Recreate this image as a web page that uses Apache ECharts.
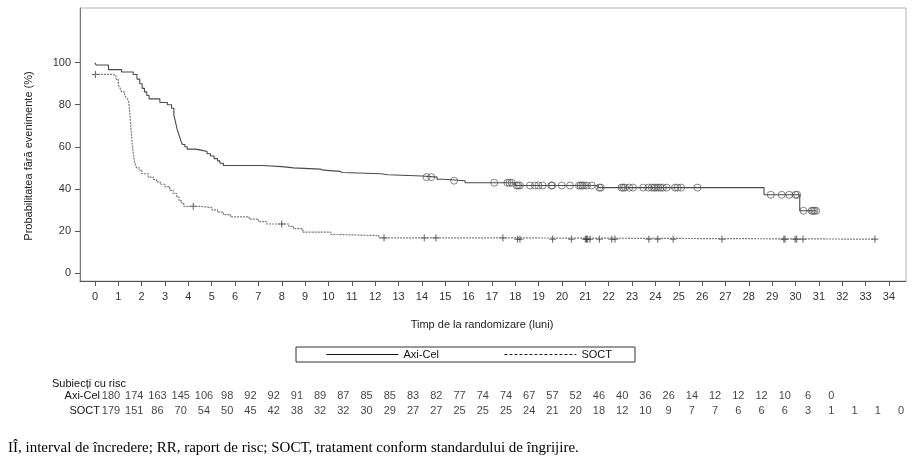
<!DOCTYPE html>
<html lang="ro">

<head>
    <meta charset="UTF-8">
    <title>Supraviețuire fără evenimente</title>
    <script src="https://cdn.jsdelivr.net/npm/echarts@6.0.0/dist/echarts.min.js"></script>
    <style>
        html, body { margin: 0; padding: 0; background: #fff; }
    </style>
</head>

<body>
    <div id="echart" style="width: 923px; height: 467px;"></div>
</body>

<script>
    // curba Kaplan-Meier Axi-Cel: momentul treptei (luni) si probabilitatea (%)
    const axiTimes = [0, 0.05, 0.58, 1.14, 1.64, 1.8, 1.92, 2.02, 2.12, 2.22, 2.32, 2.78, 3.1, 3.28, 3.38, 3.45,
        3.52, 3.6, 3.68, 3.75, 3.85, 3.95, 4.3, 4.6, 4.8, 4.95, 5.1, 5.25, 5.35, 5.5, 7.15, 8.0, 8.5, 9.64, 9.8,
        10.5, 10.6, 12.25, 12.55, 14.0, 14.65, 14.95, 15.85, 18.0, 21.55, 28.65, 30.18, 30.88];
    const axiSurv = [100, 98.9, 96.7, 95.6, 94.4, 92.2, 90.0, 87.8, 86.1, 84.4, 82.8, 81.1, 80.0, 78.3, 75.0, 71.7,
        68.3, 65.6, 62.8, 61.1, 60.0, 58.9, 58.3, 57.8, 56.7, 55.6, 54.4, 53.3, 52.2, 51.1, 50.6, 50.0, 49.4, 48.9, 48.3,
        47.8, 47.2, 46.7, 46.1, 45.6, 44.6, 43.9, 42.9, 41.6, 40.6, 37.2, 29.6, 29.6];
    // curba SOCT
    const socTimes = [0, 0.78, 0.9, 1.0, 1.08, 1.14, 1.27, 1.35, 1.43, 1.47, 1.5, 1.53, 1.56, 1.6, 1.64, 1.7, 1.78,
        1.9, 2.0, 2.28, 2.5, 2.64, 2.8, 3.0, 3.2, 3.35, 3.5, 3.6, 3.7, 3.8, 4.5, 5.0, 5.25, 5.5, 5.8, 6.6, 7.0, 7.35,
        8.3, 8.5, 8.9, 10.1, 10.4, 12.15, 17.9, 33.4];
    const socSurv = [94.4, 93.9, 92.2, 89.4, 87.8, 86.1, 84.4, 83.3, 82.2, 78.9, 75.0, 70.6, 66.1, 61.1, 56.7, 52.8, 50.0,
        48.9, 47.2, 45.6, 44.4, 43.3, 42.2, 41.1, 39.4, 37.8, 36.1, 34.4, 33.3, 31.7, 31.1, 30.0, 28.9, 27.8, 26.7, 25.6, 24.4, 23.3,
        22.2, 21.1, 19.4, 18.3, 17.8, 16.7, 16.1, 16.1];

    // momente de cenzurare (luni)
    const axiCens = [14.2, 14.4, 15.38, 17.1, 17.66, 17.75, 17.85, 18.06, 18.12, 18.2, 18.63, 18.84, 18.99, 19.17,
        19.55, 19.58, 19.99, 20.34, 20.73, 20.8, 20.87, 20.94, 21.07, 21.27, 21.6, 21.66, 22.55, 22.62, 22.7, 22.88,
        23.04, 23.48, 23.7, 23.84, 23.94, 24.02, 24.12, 24.22, 24.32, 24.48, 24.84, 24.95, 25.1, 25.8, 28.94, 29.41,
        29.73, 30.0, 30.07, 30.34, 30.69, 30.75, 30.81, 30.88];
    const socCens = [0.02, 4.21, 8.0, 12.38, 14.1, 14.6, 17.47, 18.1, 18.2, 19.6, 20.4, 21.0, 21.05, 21.1, 21.2, 21.6,
        22.13, 22.27, 23.72, 24.1, 24.76, 26.85, 29.5, 29.55, 29.98, 30.05, 30.32, 33.4];

    // tabel subiecti cu risc
    const riskAxi = [180, 174, 163, 145, 106, 98, 92, 92, 91, 89, 87, 85, 85, 83, 82, 77, 74, 74, 67, 57, 52, 46, 40,
        36, 26, 14, 12, 12, 12, 10, 6, 0];
    const riskSoc = [179, 151, 86, 70, 54, 50, 45, 42, 38, 32, 32, 30, 29, 27, 27, 25, 25, 25, 24, 21, 20, 18, 12, 10,
        9, 7, 7, 6, 6, 6, 3, 1, 1, 1, 0];

    const xTicks = [];
    for (let i = 0; i <= 34; i++) xTicks.push(i);
    const yTicks = [0, 20, 40, 60, 80, 100];

    const FONT = '"Liberation Sans", Arial, sans-serif';

    // valoarea curbei la momentul t (pentru pozitia semnelor de cenzurare)
    function stepAt(times, vals, t) {
        let v = vals[0];
        for (let i = 0; i < times.length; i++) {
            if (times[i] <= t) v = vals[i];
            else break;
        }
        return v;
    }

    const zip = (a, b) => a.map((t, i) => [t, b[i]]);

    const riskData = [];
    riskAxi.forEach((n, i) => riskData.push([i, 'Axi-Cel', n]));
    riskSoc.forEach((n, i) => riskData.push([i, 'SOCT', n]));

    const chart = echarts.init(document.getElementById('echart'));

    // fara simbol in legenda, doar linia
    const noSymbol = { color: 'transparent', borderWidth: 0, opacity: 0 };

    chart.setOption({
        animation: false,
        grid: [
            {
                left: 80, top: 8, right: 17, bottom: 186,
                show: true, borderColor: '#b4b4b4', borderWidth: 1,
            },
            {   // tabelul cu risc
                left: 111, right: 22, top: 388.5, height: 30,
            }
        ],
        xAxis: [
            {
                type: 'value', min: -0.64, max: 34.73,
                axisLine: { onZero: false, lineStyle: { color: '#555', width: 1 } },
                axisTick: { customValues: xTicks, length: 5, lineStyle: { color: '#555' } },
                axisLabel: { customValues: xTicks, margin: 10, fontSize: 11, color: '#333', fontFamily: FONT },
                splitLine: { show: false },
            },
            {
                gridIndex: 1, type: 'value', min: 0, max: 34, show: false,
            }
        ],
        yAxis: [
            {
                type: 'value', min: -3.8, max: 126,
                axisLine: { show: true, onZero: false, lineStyle: { color: '#777', width: 1 } },
                axisTick: { show: true, customValues: yTicks, length: 5, lineStyle: { color: '#555' } },
                axisLabel: { customValues: yTicks, margin: 9, fontSize: 11, color: '#333', fontFamily: FONT },
                splitLine: { show: false },
            },
            {
                gridIndex: 1, type: 'category', data: ['Axi-Cel', 'SOCT'], inverse: true,
                axisLine: { show: false }, axisTick: { show: false }, splitLine: { show: false },
                axisLabel: { margin: 11, fontSize: 11, color: '#111', fontFamily: FONT },
            }
        ],
        legend: {
            left: 296, top: 347,
            padding: [2, 23, 2, 30],
            itemGap: 65, itemWidth: 72, itemHeight: 10,
            borderColor: '#333', borderWidth: 1, borderRadius: 0,
            selectedMode: false,
            textStyle: { fontSize: 11, color: '#111', fontFamily: FONT },
            data: [
                { name: 'Axi-Cel', itemStyle: noSymbol, lineStyle: { color: '#111', width: 1 } },
                { name: 'SOCT', itemStyle: noSymbol, lineStyle: { color: '#222', width: 1, type: [3, 2] } }
            ],
        },
        series: [
            {
                name: 'Axi-Cel', type: 'line', step: 'end',
                data: zip(axiTimes, axiSurv),
                showSymbol: false, symbol: 'none',
                lineStyle: { color: '#4a4a4a', width: 1.1 },
                itemStyle: { color: '#4a4a4a' },
            },
            {
                name: 'SOCT', type: 'line', step: 'end',
                data: zip(socTimes, socSurv),
                showSymbol: false, symbol: 'none',
                lineStyle: { color: '#7a7a7a', width: 1.2, type: [2, 1] },
                itemStyle: { color: '#7a7a7a' },
            },
            {
                name: 'Axi-Cel cenzurat', type: 'scatter',
                data: axiCens.map(t => [t, stepAt(axiTimes, axiSurv, t)]),
                symbol: 'circle', symbolSize: 7,
                itemStyle: { color: 'rgba(255,255,255,0)', borderColor: '#555', borderWidth: 0.9 },
                silent: true,
            },
            {
                name: 'SOCT cenzurat', type: 'scatter',
                data: socCens.map(t => [t, stepAt(socTimes, socSurv, t)]),
                symbol: 'path://M0,5L10,5M5,0L5,10', symbolSize: 7,
                itemStyle: { color: 'none', borderColor: '#333', borderWidth: 1 },
                silent: true,
            },
            {
                name: 'risc', type: 'scatter', xAxisIndex: 1, yAxisIndex: 1,
                data: riskData, symbolSize: 1,
                itemStyle: { color: 'transparent' },
                label: {
                    show: true, position: 'inside',
                    formatter: p => p.value[2],
                    fontSize: 11, color: '#111', fontFamily: FONT,
                },
                silent: true,
            }
        ],
        graphic: [
            {
                type: 'text', x: 29, y: 156, rotation: Math.PI / 2,
                style: {
                    text: 'Probabilitatea fără evenimente (%)',
                    fontSize: 11, fill: '#222', fontFamily: FONT,
                    align: 'center', verticalAlign: 'middle',
                },
            },
            {
                type: 'text', x: 482, y: 325,
                style: {
                    text: 'Timp de la randomizare (luni)',
                    fontSize: 11, fill: '#222', fontFamily: FONT,
                    align: 'center', verticalAlign: 'middle',
                },
            },
            {
                type: 'text', x: 52, y: 384,
                style: {
                    text: 'Subiecți cu risc',
                    fontSize: 11, fill: '#111', fontFamily: FONT,
                    align: 'left', verticalAlign: 'middle',
                },
            },
            {
                type: 'text', x: 8, y: 448,
                style: {
                    text: 'IÎ, interval de încredere; RR, raport de risc; SOCT, tratament conform standardului de îngrijire.',
                    fontSize: 15, fill: '#000', fontFamily: '"Liberation Serif", "Times New Roman", serif',
                    align: 'left', verticalAlign: 'middle',
                },
            }
        ],
    });
</script>

</html>
